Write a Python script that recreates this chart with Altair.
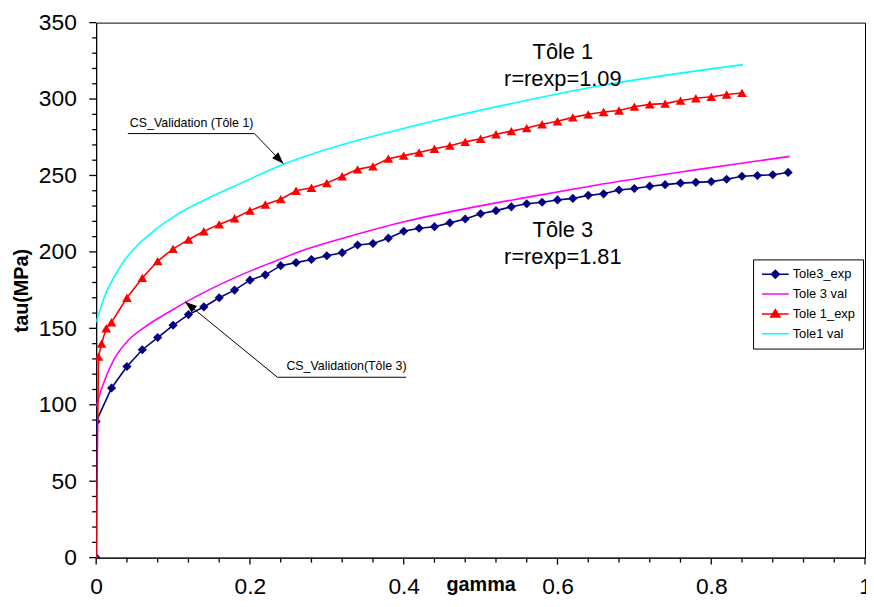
import altair as alt
import pandas as pd

FONT = "Liberation Sans, Arial, Helvetica, sans-serif"

# ---- data ----
t3_exp_gamma = [0, 0, 0.02, 0.04, 0.06, 0.08, 0.10, 0.12, 0.14, 0.16, 0.18, 0.20, 0.22, 0.24, 0.26, 0.28,
                0.30, 0.32, 0.34, 0.36, 0.38, 0.40, 0.42, 0.44, 0.46, 0.48, 0.50, 0.52, 0.54, 0.56, 0.58,
                0.60, 0.62, 0.64, 0.66, 0.68, 0.70, 0.72, 0.74, 0.76, 0.78, 0.80, 0.82, 0.84, 0.86, 0.88, 0.90]
t3_exp_tau = [0, 89, 111, 125, 136, 144, 152, 159, 164, 170, 175, 181.5, 185, 191, 193, 195,
              197.5, 199.5, 204.5, 205.5, 209, 213.5, 215.5, 216.5, 219, 221.5, 225, 227, 229.5, 231.5, 232.5,
              234, 235, 237, 238, 240.5, 241.5, 243, 244, 245, 245.5, 246, 247.5, 249.5, 250, 250.5, 252]

t3_val_gamma = [0, 0.008, 0.023, 0.0425, 0.068, 0.094, 0.116, 0.146, 0.184, 0.223, 0.275, 0.339,
                0.403, 0.468, 0.558, 0.648, 0.777, 0.902]
t3_val_tau = [99, 112, 129.5, 142.5, 152.5, 160.5, 167, 175, 184, 192, 202, 211.5,
              220, 227, 235.5, 243.5, 253.5, 262.5]

t1_exp_gamma = [0, 0.003, 0.007, 0.013, 0.02, 0.04, 0.06, 0.08, 0.10, 0.12, 0.14, 0.16, 0.18, 0.20,
                0.22, 0.24, 0.26, 0.28, 0.30, 0.32, 0.34, 0.36, 0.38, 0.40, 0.42, 0.44, 0.46, 0.48,
                0.50, 0.52, 0.54, 0.56, 0.58, 0.60, 0.62, 0.64, 0.66, 0.68, 0.70, 0.72, 0.74, 0.76,
                0.78, 0.80, 0.82, 0.84]
t1_exp_tau = [0, 131.5, 140, 150, 154, 170, 183, 194, 202, 208, 213.5, 218, 222, 227,
              231, 234.5, 240, 242, 245, 249.5, 254, 256, 261, 263, 265, 267.5, 269.5, 272,
              274, 277, 279, 281, 283.5, 285.5, 288, 290, 291.5, 292.5, 295, 296.5, 297, 299,
              300.5, 301.5, 303, 304]

t1_val_gamma = [0, 0.0125, 0.021, 0.034, 0.055, 0.077, 0.107, 0.139, 0.1885, 0.2445, 0.296, 0.382,
                0.442, 0.554, 0.648, 0.8415]
t1_val_tau = [154, 173, 181.5, 192.5, 205, 214.5, 225, 233.5, 245, 257.5, 266.5, 278.5,
              286, 298.5, 308, 322.5]

series_names = ["Tole3_exp", "Tole 3 val", "Tole 1_exp", "Tole1 val"]
series_colors = ["#000080", "#FF00FF", "#FF0000", "#00FFFF"]
legend_paths = [
    "M-1,0L1,0M0,-0.3L0.3,0L0,0.3L-0.3,0Z",
    "M-1,0L1,0",
    "M-1,0L1,0M0,-0.32L0.34,0.24L-0.34,0.24Z",
    "M-1,0L1,0",
]

big_text = ["Tôle 1", "r=rexp=1.09", "Tôle 3", "r=rexp=1.81"]
big_gamma = [0.607, 0.607, 0.607, 0.607]
big_tau = [326.2, 308.5, 209.5, 192.0]

callout_text = ["CS_Validation (Tôle 1)", "CS_Validation(Tôle 3)"]
callout_gamma = [0.0438, 0.2474]
callout_tau = [281.6, 122.5]

# callout leader lines (underline then arrow to curve)
lead_id = [1, 1, 1, 2, 2, 2]
lead_ord = [0, 1, 2, 0, 1, 2]
lead_gamma = [0.0412, 0.2058, 0.2436, 0.4034, 0.2358, 0.1156]
lead_tau = [277.4, 277.4, 257.7, 118.0, 118.0, 167.4]
arrow_gamma = [0.2436, 0.1156]
arrow_tau = [257.7, 167.4]
arrow_angle = [136, 309]

x_major = [0, 0.2, 0.4, 0.6, 0.8, 1.0]
x_minor = [round(i * 0.04, 2) for i in range(26)]
y_major = list(range(0, 351, 50))
y_minor = list(range(0, 351, 10))

# ---- scales / axes ----
xscale = alt.Scale(domain=[0, 1], nice=False, zero=False)
yscale = alt.Scale(domain=[0, 350], nice=False, zero=False)

xaxis = alt.Axis(
    values=x_major, title="gamma", grid=False, orient="bottom", ticks=False,
    labelExpr="format(datum.value, '~g')",
    labelFont=FONT, labelFontSize=23, labelColor="black", labelPadding=18,
    labelOverlap=False, labelFlush=False,
    titleFont=FONT, titleFontSize=20, titleFontWeight="bold", titleColor="black",
    titleY=33, titleBaseline="alphabetic",
    domainColor="black", domainWidth=1,
)
yaxis = alt.Axis(
    values=y_major, title="tau(MPa)", grid=False, orient="left", ticks=False,
    format="d",
    labelFont=FONT, labelFontSize=23, labelColor="black", labelPadding=20,
    labelOverlap=False, labelFlush=False,
    titleFont=FONT, titleFontSize=20, titleFontWeight="bold", titleColor="black",
    titleX=-75, titleY=270, titleAlign="center", titleBaseline="middle", titleAngle=-90,
    domainColor="black", domainWidth=1,
)

X = lambda: alt.X("g:Q", scale=xscale, axis=xaxis)
Y = lambda: alt.Y("t:Q", scale=yscale, axis=yaxis)

# tick marks (drawn through the scales from the tick value lists)
def is_major(v, step):
    return abs(v / step - round(v / step)) < 1e-6

xt_df = pd.DataFrame({"g": x_minor, "len": [7 if is_major(v, 0.2) else 4 for v in x_minor]})
yt_df = pd.DataFrame({"t": y_minor, "len": [7 if is_major(v, 50) else 4 for v in y_minor]})
TW = 1.3
xticks_major = alt.Chart(xt_df[xt_df["len"] == 7]).mark_rule(color="black", strokeWidth=TW).encode(
    x=X(), y=alt.value(540), y2=alt.value(547))
xticks_minor = alt.Chart(xt_df[xt_df["len"] == 4]).mark_rule(color="black", strokeWidth=TW).encode(
    x=X(), y=alt.value(540), y2=alt.value(545))
yticks_major = alt.Chart(yt_df[yt_df["len"] == 7]).mark_rule(color="black", strokeWidth=TW).encode(
    y=Y(), x=alt.value(-7), x2=alt.value(0))
yticks_minor = alt.Chart(yt_df[yt_df["len"] == 4]).mark_rule(color="black", strokeWidth=TW).encode(
    y=Y(), x=alt.value(-4), x2=alt.value(0))

def series_layer(gam, tau, color, shape=None, msize=None, smooth=False):
    df = pd.DataFrame({"g": gam, "t": tau, "o": list(range(len(gam)))})
    line = alt.Chart(df).mark_line(
        color=color, strokeWidth=1.6,
        interpolate="monotone" if smooth else "linear", clip=True,
    ).encode(x=X(), y=Y(), order="o:Q")
    if shape is None:
        return line
    pts = alt.Chart(df).mark_point(
        shape=shape, filled=True, color=color, size=msize, opacity=1, clip=True
    ).encode(x=X(), y=Y())
    return line + pts

l_t3e = series_layer(t3_exp_gamma, t3_exp_tau, "#000080", "diamond", 85)
l_t3v = series_layer(t3_val_gamma, t3_val_tau, "#FF00FF", smooth=True)
l_t1e = series_layer(t1_exp_gamma, t1_exp_tau, "#FF0000", "triangle-up", 95)
l_t1v = series_layer(t1_val_gamma, t1_val_tau, "#00FFFF", smooth=True)

# legend built by the library from a clipped, off-view layer
leg_df = pd.DataFrame({"s": series_names, "g": [-1] * 4, "t": [-100] * 4})
legend = alt.Legend(
    title=None, orient="none", legendX=663, legendY=239,
    strokeColor="black", fillColor="white", padding=8, cornerRadius=0,
    labelFont=FONT, labelFontSize=13, labelColor="black", labelOffset=3,
    symbolSize=729, symbolStrokeWidth=1.5, clipHeight=14, rowPadding=6,
)
leg_layer = alt.Chart(leg_df).mark_point(filled=True, opacity=1, clip=True, strokeWidth=1.5).encode(
    x=X(), y=Y(),
    fill=alt.Fill("s:N", scale=alt.Scale(domain=series_names, range=series_colors), legend=legend, sort=series_names),
    stroke=alt.Stroke("s:N", scale=alt.Scale(domain=series_names, range=series_colors), legend=legend, sort=series_names),
    shape=alt.Shape("s:N", scale=alt.Scale(domain=series_names, range=legend_paths), legend=legend, sort=series_names),
)

# annotations
big_df = pd.DataFrame({"g": big_gamma, "t": big_tau, "txt": big_text})
big = alt.Chart(big_df).mark_text(
    font=FONT, fontSize=22, color="black", align="center", baseline="alphabetic"
).encode(x=X(), y=Y(), text="txt:N")

co_df = pd.DataFrame({"g": callout_gamma, "t": callout_tau, "txt": callout_text})
co = alt.Chart(co_df).mark_text(
    font=FONT, fontSize=12.5, color="black", align="left", baseline="alphabetic"
).encode(x=X(), y=Y(), text="txt:N")

lead_df = pd.DataFrame({"id": lead_id, "o": lead_ord, "g": lead_gamma, "t": lead_tau})
lead = alt.Chart(lead_df).mark_line(color="black", strokeWidth=1).encode(
    x=X(), y=Y(), detail="id:N", order="o:Q"
)
arr_df = pd.DataFrame({"g": arrow_gamma, "t": arrow_tau, "a": arrow_angle})
arrows = alt.Chart(arr_df).mark_point(
    shape="M0,0L-0.36,1L0.36,1Z", filled=True, color="black", size=576, opacity=1
).encode(x=X(), y=Y(), angle=alt.Angle("a:Q", scale=None))

chart = alt.layer(
    xticks_major, xticks_minor, yticks_major, yticks_minor,
    l_t3e, l_t3v, l_t1e, l_t1v, lead, arrows, big, co, leg_layer
).properties(
    width=776, height=540,
    autosize=alt.AutoSizeParams(type="none"),
    padding={"left": 89, "top": 12, "right": 1, "bottom": 39},
    background="white",
).configure_view(
    stroke="black", strokeWidth=1
)

chart.save("out.html", embed_options={"renderer": "svg", "actions": False})
